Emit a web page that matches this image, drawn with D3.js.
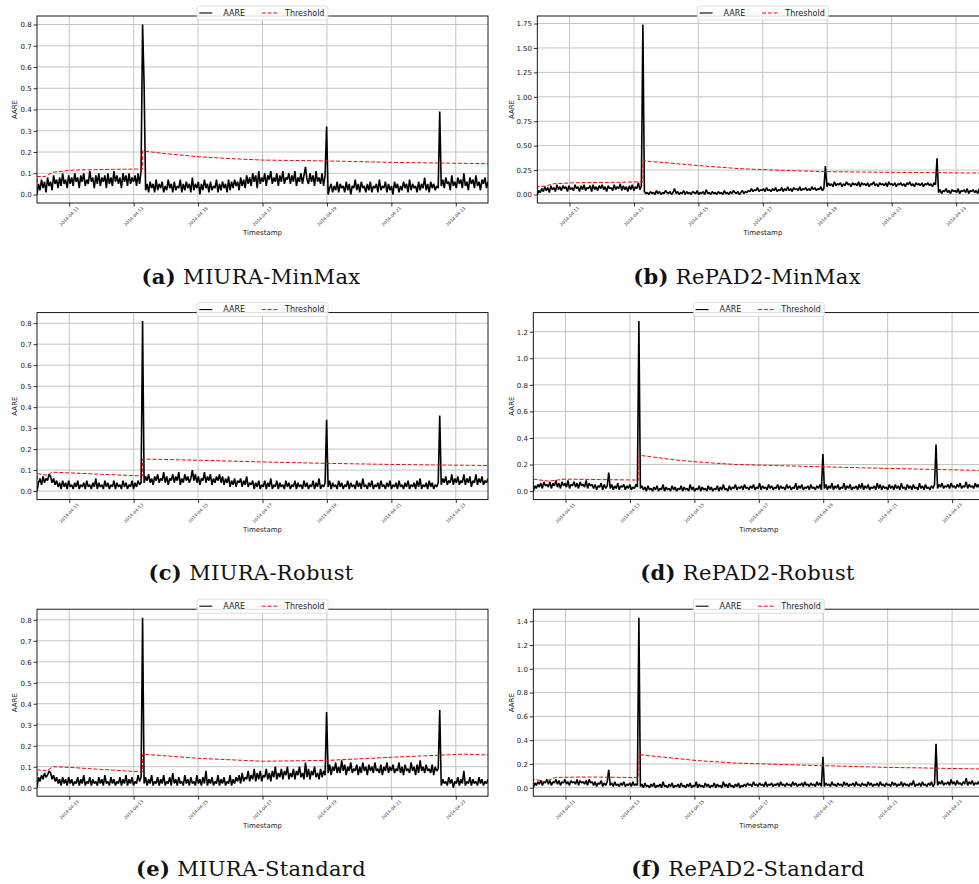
<!DOCTYPE html>
<html><head><meta charset="utf-8">
<script src="https://cdn.jsdelivr.net/npm/d3@7"></script>
<style>body{margin:0;background:#fff;}svg{display:block;}</style>
</head><body><svg id="chart" width="979" height="884"></svg>
<script>
// ---------- data ----------
const startTime = "2014-04-10 00:00";
const endTime = "2014-04-24 00:00";
const xTickLabels = ["2014-04-11","2014-04-13","2014-04-15","2014-04-17","2014-04-19","2014-04-21","2014-04-23"];
const seriesNames = ["AARE", "Threshold"];
const axisTitles = {x: "Timestamp", y: "AARE"};
const captionTags = ["(a)","(b)","(c)","(d)","(e)","(f)"];
const captionNames = ["MIURA-MinMax","RePAD2-MinMax","MIURA-Robust","RePAD2-Robust","MIURA-Standard","RePAD2-Standard"];

const yTicksA = [0,0.1,0.2,0.3,0.4,0.5,0.6,0.7,0.8];
const yTicksB = [0,0.25,0.5,0.75,1.0,1.25,1.5,1.75];
const yTicksC = [0,0.1,0.2,0.3,0.4,0.5,0.6,0.7,0.8];
const yTicksD = [0,0.2,0.4,0.6,0.8,1.0,1.2];
const yTicksE = [0,0.1,0.2,0.3,0.4,0.5,0.6,0.7,0.8];
const yTicksF = [0,0.2,0.4,0.6,0.8,1.0,1.2,1.4];

// AARE, evenly spaced samples from startTime to endTime
const aareA = [
.00,.05,.02,.07,.03,.06,.01,.08,.04,.06,.02,.09,.05,.07,.03,.08,.04,.10,.05,.07,
.03,.09,.05,.08,.04,.10,.06,.08,.03,.09,.06,.10,.04,.07,.05,.11,.06,.08,.03,.09,
.05,.10,.04,.08,.06,.09,.03,.10,.05,.08,.04,.11,.06,.09,.05,.08,.03,.10,.06,.09,
.04,.10,.05,.08,.06,.09,.04,.10,.05,.11,.80,.52,.02,.05,.01,.06,.03,.05,.01,.07,
.02,.05,.03,.06,.01,.04,.02,.07,.03,.05,.01,.06,.02,.04,.03,.07,.01,.05,.02,.06,
.03,.05,.01,.08,.02,.05,.03,.06,.00,.05,.02,.07,.03,.05,.01,.06,.02,.04,.03,.07,
.01,.05,.02,.06,.03,.05,.01,.07,.02,.06,.03,.07,.04,.06,.02,.08,.04,.07,.03,.09,
.05,.08,.04,.10,.06,.09,.03,.11,.05,.08,.06,.10,.04,.09,.07,.11,.05,.08,.06,.10,
.04,.09,.06,.11,.05,.08,.07,.10,.05,.09,.06,.11,.04,.08,.06,.10,.05,.09,.13,.07,
.05,.10,.06,.09,.04,.11,.06,.08,.05,.10,.04,.09,.32,.00,.03,.05,.01,.04,.02,.06,
.01,.05,.03,.04,.01,.06,.02,.05,.00,.04,.03,.07,.02,.05,.01,.06,.03,.04,.01,.05,
.02,.06,.01,.04,.03,.05,.01,.07,.02,.04,.03,.06,.01,.05,.02,.04,.00,.06,.03,.05,
.01,.04,.02,.06,.03,.05,.01,.07,.02,.05,.03,.04,.01,.06,.02,.05,.03,.08,.02,.05,
.01,.06,.03,.05,.02,.04,.03,.39,.04,.07,.03,.08,.05,.06,.02,.09,.04,.06,.03,.08,
.05,.07,.03,.10,.04,.06,.02,.08,.05,.07,.03,.09,.04,.06,.02,.07,.05,.08,.03,.06];

const aareB = [
.00,.04,.02,.06,.03,.08,.04,.07,.02,.09,.05,.07,.03,.10,.05,.08,.04,.09,.06,.08,
.03,.09,.05,.07,.04,.10,.06,.08,.03,.09,.05,.10,.04,.07,.06,.09,.03,.10,.05,.08,
.04,.09,.06,.10,.05,.08,.03,.09,.06,.07,.04,.10,.05,.08,.06,.11,.04,.09,.05,.08,
.03,.09,.05,.10,.04,.08,.06,.12,.05,.09,1.74,.03,.01,.02,.00,.03,.01,.02,.00,.04,
.01,.03,.00,.02,.01,.04,.02,.01,.03,.00,.02,.06,.01,.03,.00,.02,.01,.04,.00,.03,
.01,.02,.00,.03,.02,.01,.04,.00,.02,.01,.03,.00,.05,.01,.02,.00,.03,.01,.02,.00,
.03,.01,.02,.00,.04,.01,.02,.00,.03,.01,.04,.02,.01,.03,.00,.02,.04,.01,.03,.02,
.04,.03,.06,.03,.05,.04,.07,.03,.05,.04,.06,.03,.07,.04,.05,.03,.06,.04,.07,.03,
.05,.04,.07,.03,.06,.04,.08,.04,.06,.03,.07,.05,.06,.04,.08,.04,.06,.05,.07,.04,
.06,.04,.08,.05,.07,.04,.06,.05,.08,.04,.06,.29,.08,.12,.09,.11,.08,.13,.09,.11,
.10,.12,.08,.11,.09,.13,.10,.11,.08,.12,.10,.11,.09,.13,.08,.12,.10,.11,.09,.12,
.08,.11,.10,.13,.09,.11,.08,.12,.10,.11,.09,.12,.08,.13,.10,.11,.09,.12,.08,.11,
.10,.12,.09,.11,.08,.12,.10,.13,.09,.11,.08,.12,.10,.11,.09,.12,.08,.11,.10,.12,
.09,.11,.08,.12,.10,.37,.02,.05,.01,.04,.03,.06,.02,.04,.01,.05,.03,.04,.02,.06,
.01,.04,.03,.05,.02,.06,.01,.04,.03,.05,.02,.04,.01,.06,.03,.04,.02,.05,.01,.04];

const aareC = [
.00,.04,.06,.03,.07,.04,.06,.05,.08,.07,.04,.06,.03,.05,.02,.04,.01,.05,.02,.04,
.01,.05,.02,.03,.01,.04,.02,.05,.01,.03,.02,.04,.01,.05,.02,.03,.01,.04,.02,.06,
.01,.04,.02,.03,.01,.05,.02,.04,.01,.03,.02,.05,.01,.04,.02,.03,.01,.05,.02,.04,
.01,.03,.02,.05,.01,.04,.02,.05,.03,.04,.81,.04,.07,.05,.08,.04,.06,.03,.07,.05,
.08,.04,.06,.05,.09,.04,.07,.03,.06,.05,.08,.04,.07,.05,.09,.03,.06,.04,.08,.05,
.07,.04,.06,.10,.05,.08,.04,.07,.03,.06,.05,.09,.04,.07,.05,.08,.03,.06,.04,.07,
.05,.08,.04,.07,.03,.06,.04,.07,.02,.05,.03,.06,.02,.05,.04,.06,.02,.05,.03,.07,
.02,.04,.03,.05,.01,.04,.02,.05,.01,.03,.02,.05,.01,.04,.02,.06,.01,.03,.02,.05,
.01,.04,.02,.03,.01,.05,.02,.04,.01,.03,.02,.05,.01,.04,.02,.03,.01,.05,.02,.04,
.01,.03,.02,.05,.01,.04,.02,.06,.01,.03,.02,.04,.34,.02,.05,.01,.04,.02,.03,.01,
.05,.02,.04,.01,.03,.02,.05,.01,.04,.02,.03,.01,.05,.02,.04,.01,.06,.02,.03,.01,
.04,.02,.05,.01,.03,.02,.04,.01,.05,.02,.03,.01,.04,.02,.05,.01,.03,.02,.04,.01,
.05,.02,.03,.01,.04,.02,.05,.01,.03,.02,.04,.01,.05,.02,.06,.01,.03,.02,.04,.01,
.05,.02,.04,.01,.03,.02,.04,.36,.03,.06,.04,.07,.03,.05,.04,.08,.03,.06,.04,.07,
.03,.05,.04,.08,.03,.06,.04,.07,.02,.05,.04,.08,.03,.06,.04,.07,.03,.05,.04,.06];

const aareD = [
.00,.04,.02,.05,.03,.06,.02,.07,.04,.05,.03,.07,.02,.06,.04,.08,.03,.06,.02,.07,
.04,.06,.03,.08,.02,.05,.04,.07,.03,.06,.02,.07,.04,.05,.03,.08,.02,.06,.04,.05,
.02,.05,.01,.04,.03,.06,.01,.05,.02,.04,.14,.02,.05,.01,.04,.02,.06,.01,.04,.03,
.05,.01,.04,.02,.05,.01,.03,.02,.05,.03,1.28,.02,.04,.01,.03,.00,.04,.01,.02,.00,
.03,.01,.04,.00,.02,.01,.05,.00,.03,.01,.02,.00,.04,.01,.03,.00,.02,.01,.04,.00,
.03,.01,.02,.00,.05,.01,.03,.00,.02,.01,.04,.00,.03,.01,.02,.00,.04,.01,.03,.00,
.02,.01,.04,.00,.03,.01,.05,.01,.02,.00,.04,.01,.03,.02,.05,.01,.03,.02,.04,.01,
.05,.02,.03,.01,.04,.02,.05,.01,.03,.02,.06,.01,.04,.02,.03,.01,.05,.02,.04,.01,
.03,.02,.05,.01,.04,.02,.03,.01,.05,.02,.04,.01,.03,.02,.06,.01,.04,.02,.05,.01,
.03,.02,.04,.01,.05,.02,.03,.01,.04,.02,.05,.01,.28,.02,.05,.01,.04,.02,.06,.01,
.04,.02,.05,.01,.03,.02,.06,.01,.04,.02,.05,.01,.03,.02,.04,.01,.05,.02,.06,.01,
.04,.02,.05,.01,.03,.02,.04,.01,.06,.02,.05,.01,.04,.02,.03,.01,.05,.02,.04,.01,
.05,.02,.04,.01,.06,.02,.03,.01,.05,.02,.04,.01,.05,.02,.03,.01,.06,.02,.04,.01,
.05,.02,.03,.01,.04,.02,.05,.35,.02,.05,.03,.06,.02,.04,.03,.05,.02,.06,.03,.04,
.02,.05,.03,.06,.02,.04,.03,.07,.02,.05,.03,.04,.02,.06,.03,.05,.02,.04,.03,.05];

const aareE = [
.00,.05,.03,.06,.04,.07,.05,.06,.08,.07,.04,.06,.03,.05,.02,.04,.01,.05,.02,.04,
.01,.05,.02,.04,.01,.03,.02,.05,.01,.04,.02,.06,.01,.03,.02,.05,.01,.04,.02,.03,
.01,.05,.02,.04,.01,.06,.02,.03,.01,.05,.02,.04,.01,.03,.02,.05,.01,.04,.02,.06,
.01,.04,.02,.05,.01,.03,.02,.06,.03,.05,.81,.02,.05,.01,.04,.02,.06,.01,.03,.02,
.05,.01,.04,.02,.06,.01,.03,.02,.05,.01,.07,.02,.04,.01,.05,.02,.03,.01,.06,.02,
.04,.01,.05,.02,.03,.01,.06,.02,.04,.01,.05,.02,.08,.01,.04,.02,.05,.01,.03,.02,
.06,.01,.04,.02,.05,.01,.03,.02,.06,.01,.04,.02,.05,.03,.06,.02,.07,.03,.05,.04,
.08,.03,.06,.04,.09,.03,.07,.04,.08,.03,.06,.05,.09,.04,.07,.03,.08,.05,.10,.04,
.07,.05,.09,.04,.08,.06,.10,.04,.07,.05,.09,.04,.08,.06,.10,.05,.07,.04,.12,.05,
.09,.04,.08,.06,.10,.05,.07,.04,.09,.05,.08,.06,.36,.07,.11,.06,.10,.08,.12,.07,
.10,.07,.13,.08,.11,.06,.10,.08,.12,.07,.09,.08,.11,.06,.10,.07,.12,.08,.10,.06,
.11,.08,.10,.07,.12,.08,.09,.07,.11,.06,.10,.08,.12,.07,.10,.08,.11,.07,.09,.08,
.12,.07,.10,.06,.11,.08,.09,.07,.12,.08,.10,.06,.11,.07,.13,.08,.10,.07,.11,.08,
.09,.07,.11,.06,.10,.08,.09,.37,.01,.04,.02,.03,.01,.05,.02,.04,.00,.03,.02,.05,
.01,.04,.02,.08,.01,.03,.02,.05,.01,.04,.02,.03,.01,.05,.02,.04,.01,.03,.02,.04];

const aareF = [
.00,.04,.02,.05,.03,.06,.02,.05,.04,.07,.03,.06,.02,.05,.04,.07,.03,.06,.02,.05,
.04,.07,.03,.05,.02,.06,.04,.05,.03,.07,.02,.06,.04,.05,.03,.06,.02,.07,.04,.05,
.02,.05,.01,.04,.03,.06,.01,.04,.02,.05,.15,.02,.04,.01,.05,.02,.03,.01,.04,.02,
.05,.01,.03,.02,.04,.01,.05,.02,.03,.02,1.43,.01,.03,.00,.04,.01,.02,.00,.03,.01,
.04,.00,.02,.01,.03,.00,.05,.01,.02,.00,.03,.01,.04,.00,.02,.01,.03,.00,.04,.01,
.02,.00,.03,.01,.04,.00,.02,.01,.05,.00,.03,.01,.02,.00,.04,.01,.03,.00,.02,.01,
.04,.00,.03,.01,.02,.00,.05,.01,.03,.00,.04,.01,.02,.00,.03,.01,.04,.00,.02,.01,
.03,.01,.04,.02,.03,.01,.05,.02,.03,.01,.04,.02,.03,.01,.05,.01,.03,.02,.04,.01,
.03,.02,.04,.01,.05,.02,.03,.01,.04,.02,.03,.01,.05,.02,.04,.01,.03,.02,.04,.01,
.05,.02,.03,.01,.04,.02,.03,.01,.05,.02,.04,.01,.26,.01,.04,.02,.03,.01,.05,.02,
.03,.01,.04,.02,.03,.01,.05,.02,.04,.01,.03,.02,.04,.01,.05,.02,.03,.01,.04,.02,
.03,.01,.05,.02,.04,.01,.03,.02,.04,.01,.05,.02,.03,.01,.04,.02,.03,.01,.05,.02,
.04,.01,.03,.02,.05,.01,.04,.02,.03,.01,.04,.02,.06,.01,.03,.02,.04,.01,.05,.02,
.03,.01,.04,.02,.05,.01,.03,.37,.02,.05,.03,.06,.02,.04,.03,.05,.02,.07,.03,.05,
.02,.06,.03,.04,.02,.05,.03,.08,.02,.05,.03,.06,.02,.04,.03,.05,.02,.06,.03,.04];

const thresholdA = [
["2014-04-10 00:00",0.000],["2014-04-10 00:15",0.085],["2014-04-10 06:00",0.085],
["2014-04-10 12:00",0.105],["2014-04-11 03:00",0.115],["2014-04-12 06:00",0.118],
["2014-04-13 06:40",0.120],["2014-04-13 06:42",0.205],["2014-04-14 00:00",0.192],
["2014-04-15 00:00",0.178],["2014-04-16 00:00",0.169],["2014-04-17 00:00",0.162],
["2014-04-19 00:00",0.158],["2014-04-21 00:00",0.151],["2014-04-24 00:00",0.145]];
const thresholdB = [
["2014-04-10 00:00",0.000],["2014-04-10 00:15",0.080],["2014-04-10 06:00",0.085],
["2014-04-10 12:00",0.110],["2014-04-11 03:00",0.120],["2014-04-12 12:00",0.125],
["2014-04-13 06:40",0.130],["2014-04-13 06:42",0.345],["2014-04-14 00:00",0.325],
["2014-04-15 00:00",0.296],["2014-04-16 06:00",0.265],["2014-04-17 12:00",0.248],
["2014-04-18 22:00",0.234],["2014-04-20 22:00",0.227],["2014-04-24 00:00",0.219]];
const thresholdC = [
["2014-04-10 00:00",0.000],["2014-04-10 00:15",0.083],["2014-04-10 08:00",0.075],
["2014-04-10 11:00",0.090],["2014-04-11 00:00",0.087],["2014-04-12 00:00",0.080],
["2014-04-13 06:40",0.072],["2014-04-13 06:42",0.153],["2014-04-15 00:00",0.147],
["2014-04-17 00:00",0.139],["2014-04-19 00:00",0.132],["2014-04-21 00:00",0.127],
["2014-04-24 00:00",0.122]];
const thresholdD = [
["2014-04-10 00:00",0.000],["2014-04-10 00:15",0.090],["2014-04-10 11:00",0.075],
["2014-04-11 00:00",0.090],["2014-04-12 00:00",0.087],["2014-04-13 06:40",0.083],
["2014-04-13 06:42",0.270],["2014-04-14 12:00",0.232],["2014-04-15 08:00",0.215],
["2014-04-16 08:00",0.200],["2014-04-18 23:00",0.183],["2014-04-20 23:00",0.171],
["2014-04-23 20:00",0.156],["2014-04-24 00:00",0.155]];
const thresholdE = [
["2014-04-10 00:00",0.000],["2014-04-10 00:15",0.085],["2014-04-10 07:00",0.080],
["2014-04-10 12:00",0.100],["2014-04-11 00:00",0.097],["2014-04-12 00:00",0.087],
["2014-04-13 06:40",0.075],["2014-04-13 06:42",0.160],["2014-04-15 00:00",0.140],
["2014-04-17 00:00",0.126],["2014-04-19 00:00",0.130],["2014-04-21 00:00",0.145],
["2014-04-22 12:00",0.155],["2014-04-23 06:00",0.160],["2014-04-24 00:00",0.156]];
const thresholdF = [
["2014-04-10 00:00",0.000],["2014-04-10 00:15",0.073],["2014-04-10 08:00",0.050],
["2014-04-10 17:00",0.087],["2014-04-11 18:00",0.090],["2014-04-13 06:40",0.085],
["2014-04-13 06:42",0.278],["2014-04-15 02:00",0.228],["2014-04-16 07:00",0.207],
["2014-04-19 00:00",0.185],["2014-04-21 00:00",0.171],["2014-04-23 20:00",0.158],
["2014-04-24 00:00",0.157]];

// ---------- layout ----------
const parseTime = d3.timeParse("%Y-%m-%d %H:%M");
const parseDay = d3.timeParse("%Y-%m-%d");
const t0 = parseTime(startTime), t1 = parseTime(endTime);
const PW = 451, PH = 187;
const panels = [
  {aare: aareA, thr: thresholdA, yTicks: yTicksA, fmt: ".1f", left: 37,    top: 16,    ylabX: 15,    capX: 251,   capY: 284},
  {aare: aareB, thr: thresholdB, yTicks: yTicksB, fmt: ".2f", left: 537.3, top: 16,    ylabX: 511.7, capX: 747,   capY: 284},
  {aare: aareC, thr: thresholdC, yTicks: yTicksC, fmt: ".1f", left: 37,    top: 312.6, ylabX: 15,    capX: 251,   capY: 580},
  {aare: aareD, thr: thresholdD, yTicks: yTicksD, fmt: ".1f", left: 533.3, top: 312.6, ylabX: 511.7, capX: 747.5, capY: 580},
  {aare: aareE, thr: thresholdE, yTicks: yTicksE, fmt: ".1f", left: 37,    top: 609.2, ylabX: 15,    capX: 251,   capY: 876},
  {aare: aareF, thr: thresholdF, yTicks: yTicksF, fmt: ".1f", left: 533.3, top: 609.2, ylabX: 511.7, capX: 748,   capY: 876}
];

const svg = d3.select("#chart");
const sans = "DejaVu Sans, sans-serif";
const gridColor = "#c4c4c4";
const dash = "4,1.8";

panels.forEach((p, k) => {
  const n = p.aare.length;
  const timeAt = d3.scaleLinear().domain([0, n - 1]).range([+t0, +t1]);
  const aarePts = p.aare.map((v, i) => ({t: new Date(timeAt(i)), v}));
  const thrPts = p.thr.map(d => ({t: parseTime(d[0]), v: d[1]}));
  const allV = p.aare.concat(p.thr.map(d => d[1]));
  const lo = d3.min(allV), hi = d3.max(allV), pad = (hi - lo) * 0.05;

  const x = d3.scaleTime().domain([t0, t1]).range([p.left, p.left + PW]);
  const y = d3.scaleLinear().domain([lo - pad, hi + pad]).range([p.top + PH, p.top]);
  const xTicks = xTickLabels.map(parseDay);

  const g = svg.append("g");
  const clipId = "clip" + k;
  g.append("clipPath").attr("id", clipId).append("rect")
    .attr("x", p.left).attr("y", p.top).attr("width", PW).attr("height", PH);

  // grid
  g.append("g").selectAll("line").data(xTicks).join("line")
    .attr("x1", d => x(d)).attr("x2", d => x(d)).attr("y1", p.top).attr("y2", p.top + PH)
    .attr("stroke", gridColor).attr("stroke-width", 1);
  g.append("g").selectAll("line").data(p.yTicks).join("line")
    .attr("x1", p.left).attr("x2", p.left + PW).attr("y1", d => y(d)).attr("y2", d => y(d))
    .attr("stroke", gridColor).attr("stroke-width", 1);

  // lines
  const line = d3.line().x(d => x(d.t)).y(d => y(d.v));
  const plot = g.append("g").attr("clip-path", `url(#${clipId})`);
  plot.append("path").datum(aarePts).attr("d", line)
    .attr("fill", "none").attr("stroke", "#000").attr("stroke-width", 1.6).attr("stroke-linejoin", "bevel");
  plot.append("path").datum(thrPts).attr("d", line)
    .attr("fill", "none").attr("stroke", "#ff0000").attr("stroke-width", 1).attr("stroke-dasharray", dash);

  // axes
  const xAxis = g.append("g").attr("transform", `translate(0,${p.top + PH})`)
    .call(d3.axisBottom(x).tickValues(xTicks).tickSize(3.5).tickFormat(""));
  xAxis.select(".domain").remove();
  xAxis.selectAll("line").attr("stroke", "#000").attr("stroke-width", 0.8);
  const yAxis = g.append("g").attr("transform", `translate(${p.left},0)`)
    .call(d3.axisLeft(y).tickValues(p.yTicks).tickSize(3.5).tickFormat(d3.format(p.fmt)));
  yAxis.select(".domain").remove();
  yAxis.selectAll("line").attr("stroke", "#000").attr("stroke-width", 0.8);
  yAxis.selectAll("text").attr("font-family", sans).attr("font-size", 7).attr("fill", "#222")
    .attr("x", -5.3).attr("dy", "0.33em");

  // rotated x tick labels
  g.append("g").selectAll("text").data(xTicks).join("text")
    .attr("transform", d => `translate(${x(d)},${p.top + PH + 13.5}) rotate(-45)`)
    .attr("text-anchor", "middle").attr("dy", "0.33em")
    .attr("font-family", sans).attr("font-size", 4.4).attr("fill", "#333")
    .text((d, i) => xTickLabels[i]);

  // spines
  g.append("rect").attr("x", p.left).attr("y", p.top).attr("width", PW).attr("height", PH)
    .attr("fill", "none").attr("stroke", "#000").attr("stroke-width", 0.9);

  // axis titles
  const cx = p.left + PW / 2;
  g.append("text").attr("x", cx).attr("y", p.top + PH + 32)
    .attr("text-anchor", "middle").attr("font-family", sans).attr("font-size", 7).attr("fill", "#222")
    .text(axisTitles.x);
  g.append("text").attr("transform", `translate(${p.ylabX},${p.top + PH / 2}) rotate(-90)`)
    .attr("text-anchor", "middle").attr("dy", "0.35em")
    .attr("font-family", sans).attr("font-size", 7).attr("fill", "#222")
    .text(axisTitles.y);

  // legend
  const lg = g.append("g");
  lg.append("rect").attr("x", cx - 65.5).attr("y", p.top - 10).attr("width", 131).attr("height", 14)
    .attr("rx", 2).attr("fill", "#fff").attr("fill-opacity", 0.85).attr("stroke", "#d6d6d6").attr("stroke-width", 0.8);
  const ly = p.top - 3;
  lg.append("line").attr("x1", cx - 63.2).attr("x2", cx - 50.2).attr("y1", ly).attr("y2", ly)
    .attr("stroke", "#000").attr("stroke-width", 1.1);
  lg.append("text").attr("x", cx - 39.2).attr("y", ly).attr("dy", "0.36em")
    .attr("font-family", sans).attr("font-size", 8).attr("fill", "#222").text(seriesNames[0]);
  lg.append("line").attr("x1", cx - 0.8).attr("x2", cx + 16.8).attr("y1", ly).attr("y2", ly)
    .attr("stroke", "#ff0000").attr("stroke-width", 1).attr("stroke-dasharray", dash);
  lg.append("text").attr("x", cx + 22.5).attr("y", ly).attr("dy", "0.36em")
    .attr("font-family", sans).attr("font-size", 8).attr("fill", "#222").text(seriesNames[1]);

  // caption
  const cap = svg.append("text").attr("x", p.capX).attr("y", p.capY).attr("text-anchor", "middle")
    .attr("font-family", "DejaVu Serif, serif").attr("font-size", 21).attr("letter-spacing", 0.35).attr("fill", "#111");
  cap.append("tspan").attr("font-weight", "bold").text(captionTags[k]);
  cap.append("tspan").text(" " + captionNames[k]);
});
</script>
</body></html>
